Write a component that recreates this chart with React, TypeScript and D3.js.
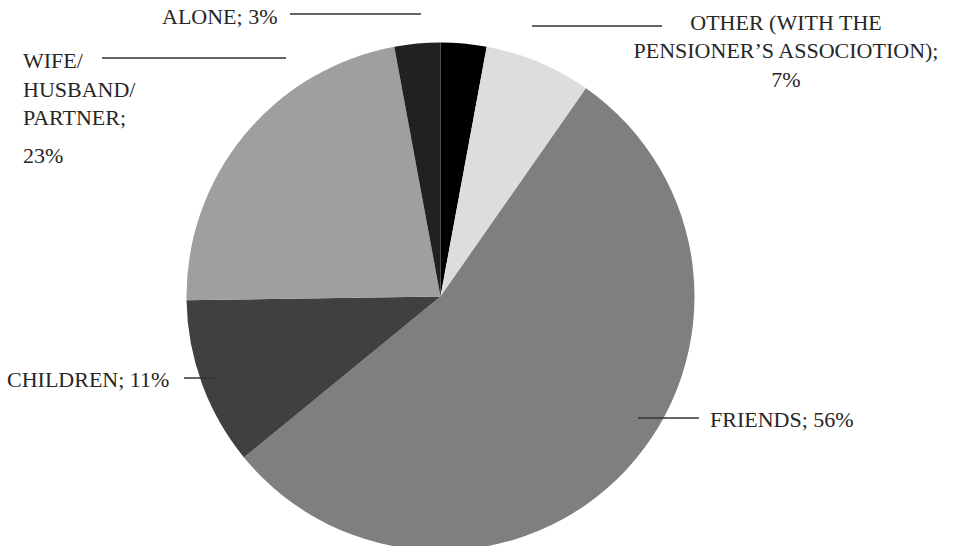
import React from "react";
import * as d3 from "d3";

// Data (slice order clockwise from 12 o'clock)
const categories = ["(unlabelled)", "OTHER (WITH THE PENSIONER’S ASSOCIOTION)", "FRIENDS", "CHILDREN", "WIFE/ HUSBAND/ PARTNER", "ALONE"];
const values = [3, 7, 56, 11, 23, 3];
const colors = ["#000000", "#dddddd", "#7f7f7f", "#404040", "#9f9f9f", "#212121"];

// Label text lines as printed
const labelAlone = ["ALONE; 3%"];
const labelOther = ["OTHER (WITH THE", "PENSIONER’S ASSOCIOTION);", "7%"];
const labelFriends = ["FRIENDS; 56%"];
const labelChildren = ["CHILDREN; 11%"];
const labelWife = ["WIFE/", "HUSBAND/", "PARTNER;", "23%"];

const W = 958;
const H = 546;
const cx = 440.5;
const cy = 296.5;
const R = 254;

export default function App() {
  const pie = d3.pie<number>().sort(null).value((d) => d).startAngle(0).endAngle(2 * Math.PI);
  const arcs = pie(values);
  const arc = d3.arc<d3.PieArcDatum<number>>().innerRadius(0).outerRadius(R);
  const font = "'Liberation Serif', 'Times New Roman', serif";
  const textColor = "#262626";
  const lineColor = "#333333";
  const fs = 22;

  return (
    <svg width={W} height={H} style={{ position: "absolute", left: 0, top: 0, background: "#fff" }}>
      <g transform={`translate(${cx},${cy})`}>
        {arcs.map((a, i) => (
          <path key={categories[i]} d={arc(a) || ""} fill={colors[i]} />
        ))}
      </g>
      <g stroke={lineColor} strokeWidth={1.4}>
        <line x1={290} x2={421} y1={14} y2={14} />
        <line x1={102} x2={286} y1={58} y2={58} />
        <line x1={532} x2={662} y1={26} y2={26} />
        <line x1={184} x2={218} y1={378} y2={378} />
        <line x1={638} x2={699} y1={418} y2={418} />
      </g>
      <g fontFamily={font} fontSize={fs} fill={textColor}>
        <text x={162} y={24}>{labelAlone[0]}</text>
        {labelWife.map((t, i) => (
          <text key={t} x={23} y={[68, 97, 125, 163][i]}>{t}</text>
        ))}
        {labelOther.map((t, i) => (
          <text key={t} x={786} y={[30, 58, 87][i]} textAnchor="middle">{t}</text>
        ))}
        <text x={7} y={387}>{labelChildren[0]}</text>
        <text x={710} y={427}>{labelFriends[0]}</text>
      </g>
    </svg>
  );
}
